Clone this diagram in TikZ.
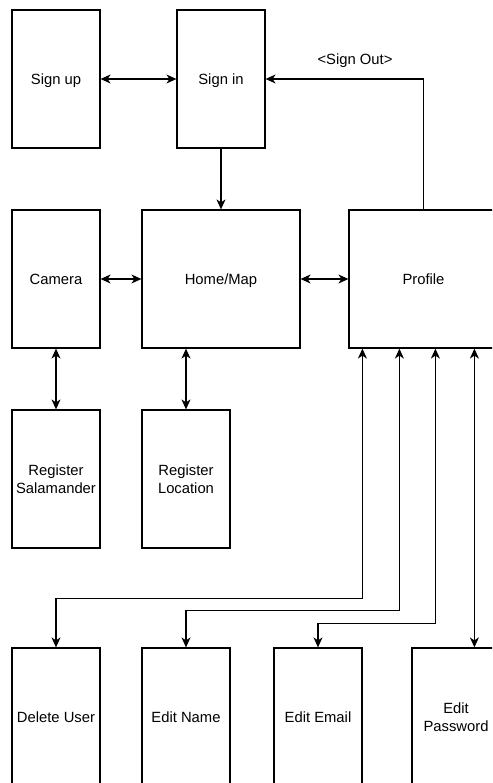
\documentclass[tikz,border=0pt]{standalone}
\usepackage{fontspec}
\setmainfont{Liberation Sans}
\usetikzlibrary{arrows.meta,calc,positioning}

\begin{document}
\begin{tikzpicture}[x=1pt, y=-1pt, >={Stealth[length=10pt,width=9pt,inset=3pt]},
  screen/.style={draw, line width=1.2pt, minimum width=88pt, minimum height=138pt,
    inner sep=2pt, align=center, font=\fontsize{14.8}{17.7}\selectfont},
  oneline/.style={screen, text height=10.6pt, text depth=0pt},
  wide/.style={oneline, minimum width=158pt},
  link/.style={line width=1.2pt}]
  \useasboundingbox (0,0) rectangle (492,783);
  \clip (0,0) rectangle (492,783);
  \node[oneline] (signup) at (56,79) {Sign up};
  \node[oneline] (signin) at (221,79) {Sign in};
  \node[oneline] (camera) at (56,279) {Camera};
  \node[wide] (home) at (221,279) {Home/Map};
  \node[oneline, minimum width=149pt] (profile) at (423.5,279) {Profile};
  \node[screen] (regsal) at (56,479) {Register\\Salamander};
  \node[screen] (regloc) at (186,479) {Register\\Location};
  \node[oneline] (deluser) at (56,717) {Delete User};
  \node[oneline] (editname) at (186,717) {Edit Name};
  \node[oneline] (editemail) at (318,717) {Edit Email};
  \node[screen] (editpass) at (456,717) {Edit\\Password};
  \node[font=\fontsize{14.8}{17.7}\selectfont] (signout) at (355,61) {<Sign Out>};
  % top row
  \draw[link, <->] (signup) -- (signin);
  \draw[link, ->] (signin) -- (home);
  \draw[link, ->] (profile.north) |- (signin.east);
  % middle row
  \draw[link, <->] (camera) -- (home);
  \draw[link, <->] (home) -- (profile);
  \draw[link, <->] (camera) -- (regsal);
  \draw[link, <->] (regloc.north |- home.south) -- (regloc.north);
  % profile settings
  \coordinate (p1) at ($(profile.south west)+(14,0)$);
  \coordinate (p2) at ($(profile.south west)+(51,0)$);
  \coordinate (p3) at ($(profile.south west)+(87,0)$);
  \coordinate (p4) at ($(profile.south west)+(126,0)$);
  \draw[link, <->] (p1) -- ++(0,250) -| (deluser.north);
  \draw[link, <->] (p2) -- ++(0,262) -| (editname.north);
  \draw[link, <->] (p3) -- ++(0,275) -| (editemail.north);
  \draw[link, <->] (p4) -- (p4 |- editpass.north);
\end{tikzpicture}
\end{document}
